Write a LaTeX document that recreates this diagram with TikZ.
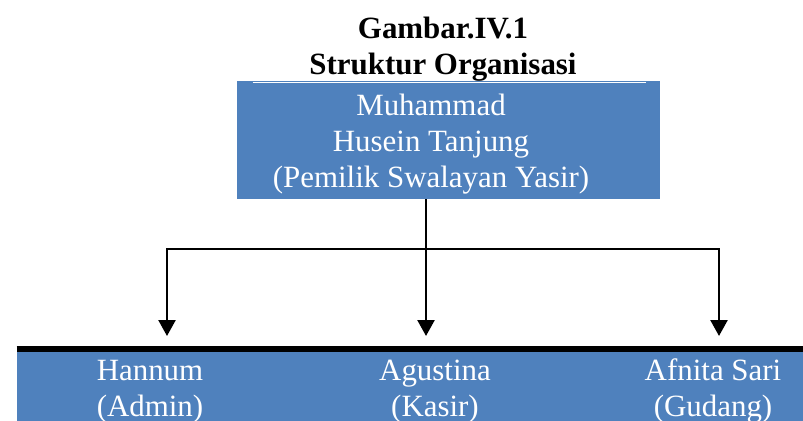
\documentclass[tikz,border=0pt]{standalone}
\usepackage{fontspec}
\setmainfont{Liberation Serif}
\usepackage{tikz}
\usetikzlibrary{arrows.meta, positioning}
\definecolor{orgblue}{RGB}{79,129,189}
\tikzstyle{headbox} = [rectangle, fill=orgblue, inner sep=0pt, minimum width=8.46cm, minimum height=2.36cm]
\tikzstyle{staffbar} = [rectangle, fill=orgblue, inner sep=0pt, minimum width=15.72cm, minimum height=1.38cm]
\tikzstyle{lbl} = [text=white, align=center, inner sep=0pt, font=\fontsize{17.6}{20.7}\selectfont]
\tikzstyle{judul} = [align=center, inner sep=0pt, font=\bfseries\fontsize{17.6}{20.9}\selectfont]
\tikzstyle{arrow} = [line width=1.4pt, -{Triangle[width=0.34cm, length=0.32cm]}]

\begin{document}
\begin{tikzpicture}[x=0.02cm, y=-0.02cm]
	\useasboundingbox (0,0) rectangle (803,421);
	
	\node (gambar) [judul, anchor=base] at (443,75) {Gambar.IV.1\\Struktur Organisasi};
	
	\node (pemilik) [headbox] at (448.5,140) {};
	\draw [white, line width=0.6pt] ([xshift=0.32cm, yshift=-0.04cm]pemilik.north west) -- ([xshift=-0.28cm, yshift=-0.04cm]pemilik.north east);
	\node (pemilikteks) [lbl, anchor=base] at (431,188) {Muhammad\\Husein Tanjung\\(Pemilik Swalayan Yasir)};
	
	\node (staf) [staffbar] at (410,386.5) {};
	\draw [line width=3.4pt] ([yshift=0.06cm]staf.north west) -- ([yshift=0.06cm]staf.north east);
	\node (hannum) [lbl, anchor=base] at (150,417) {Hannum\\(Admin)};
	\node (agustina) [lbl, anchor=base] at (435,417) {Agustina\\(Kasir)};
	\node (afnita) [lbl, anchor=base] at (713,417) {Afnita Sari\\(Gudang)};
	
	\coordinate (cabang) at (426,249);
	\coordinate (kiri) at (167,249);
	\coordinate (kanan) at (719,249);
	\coordinate (ujungH) at (167,336);
	\coordinate (ujungA) at (426,336);
	\coordinate (ujungF) at (719,336);
	
	\draw [arrow] (pemilik.south -| cabang) -- (ujungA);
	\draw [arrow] (cabang) -- (kiri) -- (ujungH);
	\draw [arrow] (cabang) -- (kanan) -- (ujungF);
\end{tikzpicture}
\end{document}
